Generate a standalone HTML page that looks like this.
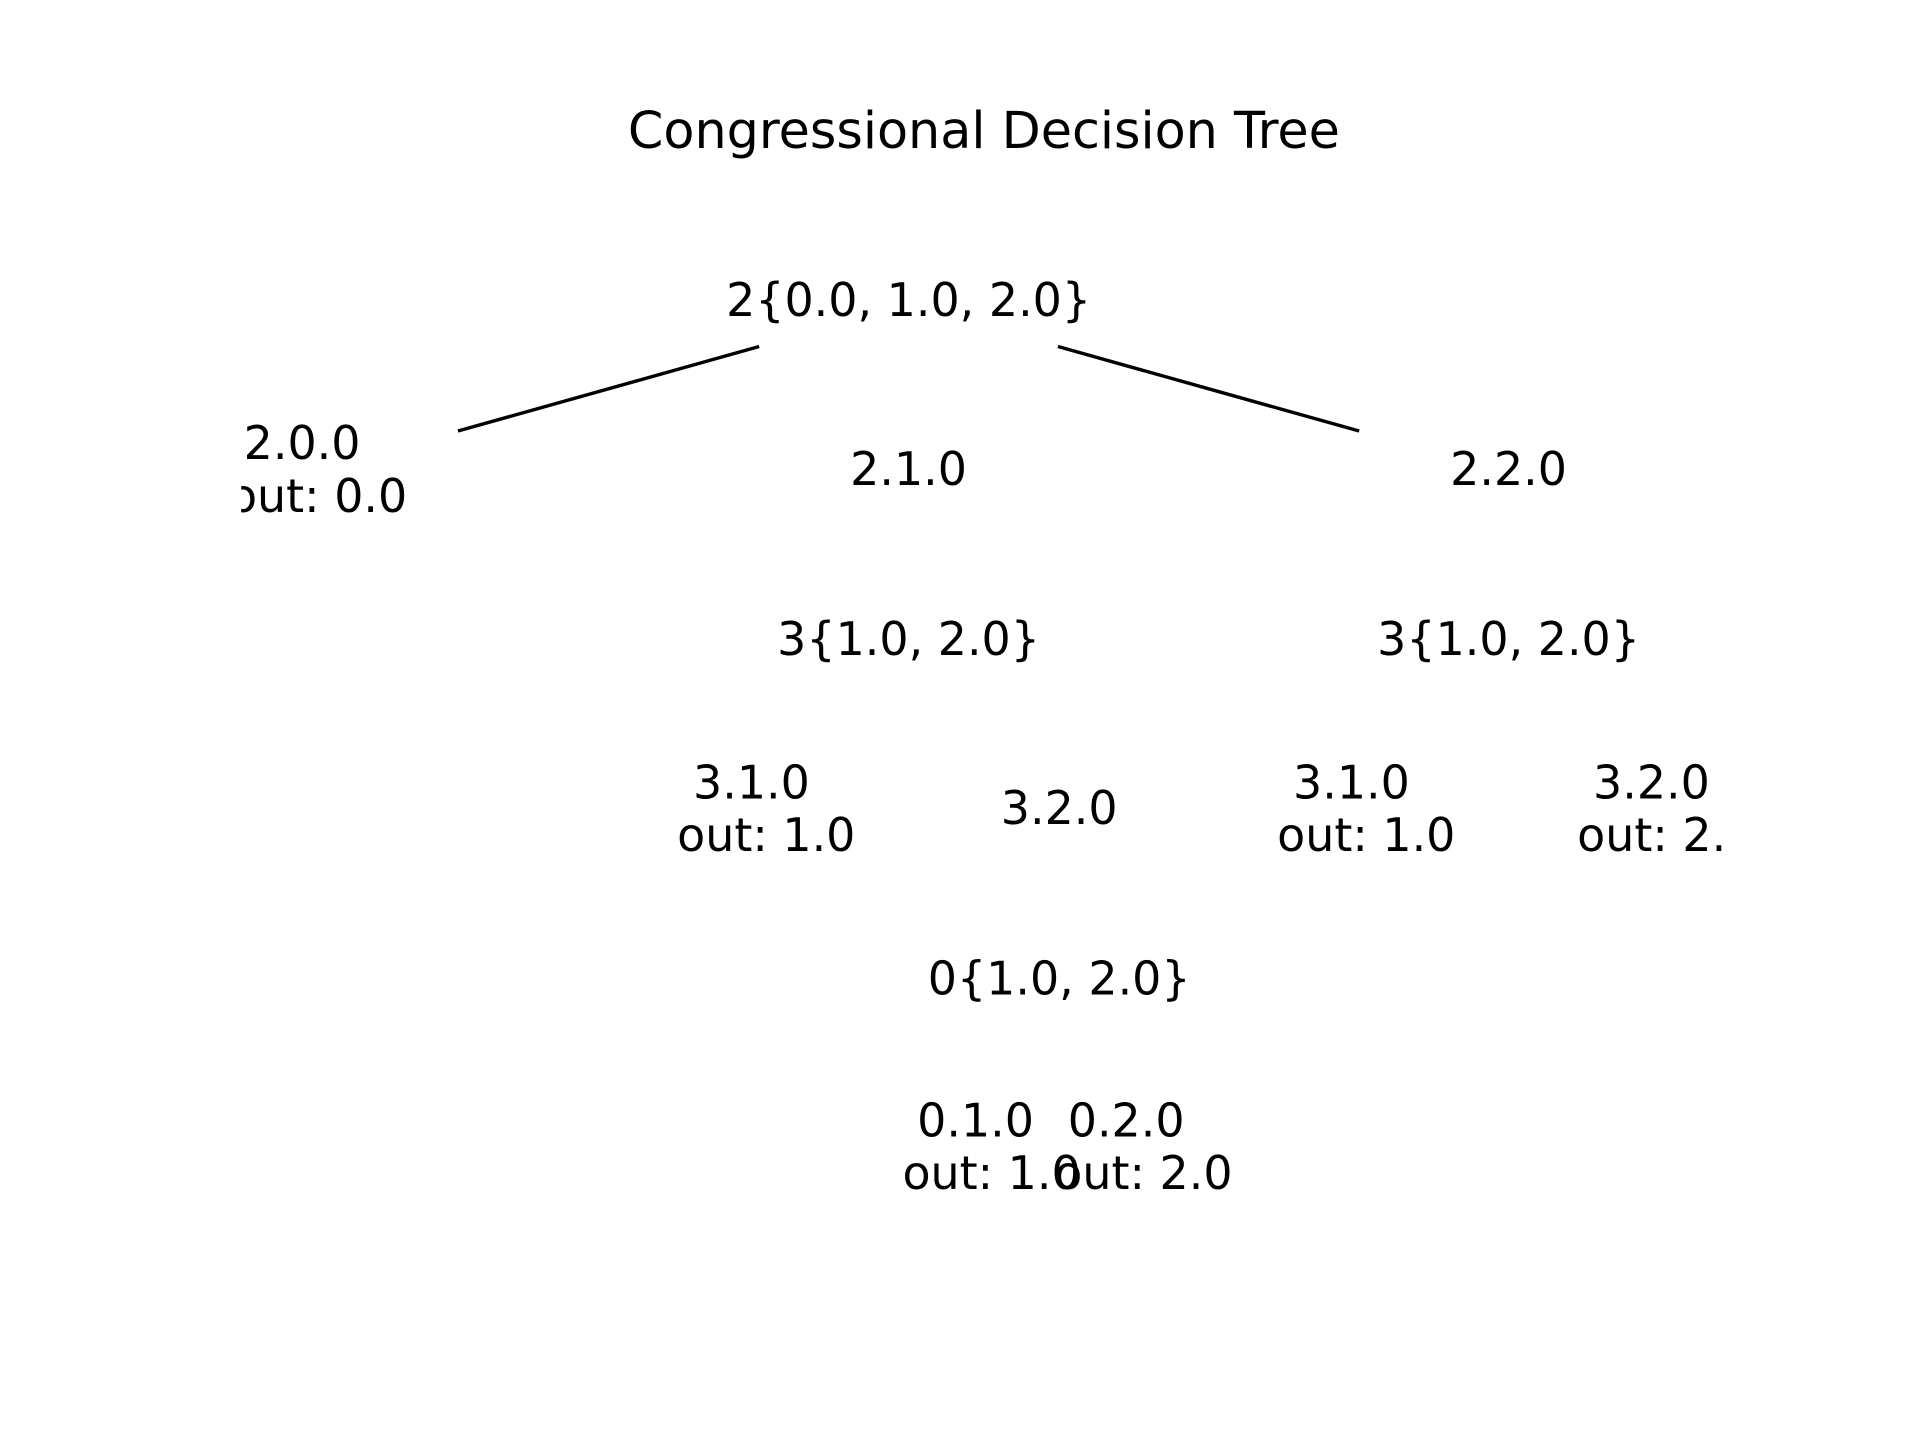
<!DOCTYPE html>
<html>
<head>
<meta charset="utf-8">
<style>
html,body{margin:0;padding:0;background:#fff;}
svg{display:block;}
text{font-family:"DejaVu Sans","Liberation Sans",sans-serif;fill:#000;}
</style>
</head>
<body>
<svg width="1920" height="1440" viewBox="0 0 1568 1176" xmlns="http://www.w3.org/2000/svg">
<defs>
<clipPath id="ax"><rect x="197" y="0" width="1213" height="1176"/></clipPath>
</defs>
<rect width="1568" height="1176" fill="#fff"/>
<text x="803.5" y="121" font-size="41.5" text-anchor="middle">Congressional Decision Tree</text>
<g clip-path="url(#ax)" font-size="37.5">
<line x1="620" y1="283" x2="374" y2="352" stroke="#000" stroke-width="2.8"/>
<line x1="864" y1="283" x2="1110" y2="352" stroke="#000" stroke-width="2.8"/>
<text x="742" y="258" text-anchor="middle">2{0.0, 1.0, 2.0}</text>
<text x="199" y="375">2.0.0</text>
<text x="187" y="418">out: 0.0</text>
<text x="742" y="396" text-anchor="middle">2.1.0</text>
<text x="1232" y="396" text-anchor="middle">2.2.0</text>
<text x="742" y="535" text-anchor="middle">3{1.0, 2.0}</text>
<text x="1232" y="535" text-anchor="middle">3{1.0, 2.0}</text>
<text x="566" y="652">3.1.0</text>
<text x="553" y="695">out: 1.0</text>
<text x="865" y="673" text-anchor="middle">3.2.0</text>
<text x="1056" y="652">3.1.0</text>
<text x="1043" y="695">out: 1.0</text>
<text x="1301" y="652">3.2.0</text>
<text x="1288" y="695">out: 2.0</text>
<text x="865" y="812" text-anchor="middle">0{1.0, 2.0}</text>
<text x="749" y="928">0.1.0</text>
<text x="737" y="971">out: 1.0</text>
<text x="872" y="928">0.2.0</text>
<text x="861" y="971">out: 2.0</text>
</g>
</svg>
</body>
</html>
